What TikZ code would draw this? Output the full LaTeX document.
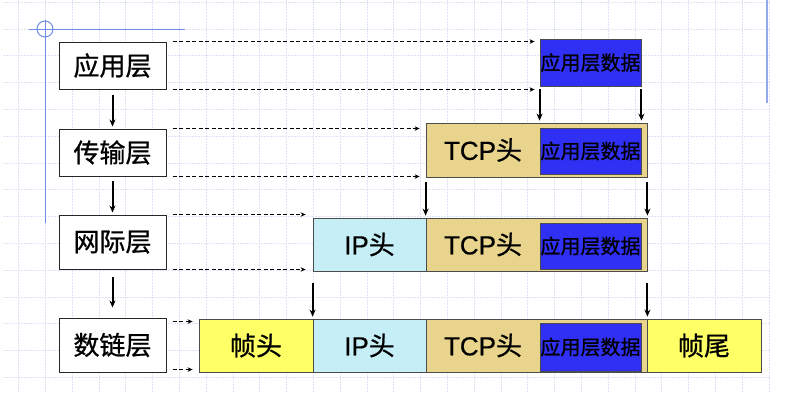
\documentclass[tikz,border=0pt]{standalone}
\usepackage{fontspec}
\setmainfont{Liberation Sans}[FakeBold=0.6]
\newfontfamily\cjk{Noto Sans CJK SC}[FakeBold=0.8]
\usetikzlibrary{arrows.meta}
\definecolor{gridc}{RGB}{222,226,245}
\definecolor{accent}{RGB}{110,140,232}
\definecolor{ylw}{RGB}{255,255,102}
\definecolor{cyn}{RGB}{198,238,246}
\definecolor{tanc}{RGB}{232,212,140}
\definecolor{dblue}{RGB}{48,48,245}
\tikzset{
  gridline/.style={gridc, line width=0.8pt, dash pattern=on 2pt off 1pt},
  layer/.style={draw=black!85, line width=1pt, fill=white, minimum width=107pt, inner sep=0pt, font=\cjk\fontsize{26}{30}\selectfont},
  cell/.style={draw=black!70, line width=0.8pt, inner sep=0pt, font=\fontsize{26}{30}\selectfont},
  data/.style={cell, fill=dblue, minimum width=101pt, font=\cjk\fontsize{20}{24}\selectfont},
  lbl/.style={inner sep=0pt, font=\fontsize{26}{30}\selectfont},
  darr/.style={dash pattern=on 4pt off 2.5pt, line width=0.9pt, -{Stealth[length=5pt,width=4.5pt]}},
  sarr/.style={line width=2pt, -{Stealth[length=7pt,width=6pt]}},
  accentline/.style={accent, line width=1pt}
}
\begin{document}
\begin{tikzpicture}[x=1pt,y=-1pt]
\useasboundingbox (0,0) rectangle (791,405);
\fill[white] (0,0) rectangle (791,405);
% grid
\foreach \i in {0,...,28} \draw[gridline] (18.5+26.8*\i,0) -- (18.5+26.8*\i,393);
\foreach \j in {-1,...,13} \draw[gridline] (3,29+26.8*\j) -- (770,29+26.8*\j);
% accents
\draw[accentline] (29,29) -- (185,29);
\draw[accentline] (45,20) -- (45,223);
\draw[accentline] (45,29) circle (8pt);
\draw[accent!75, line width=2pt] (767,0) -- (767,103);
% layer boxes
\node[layer, minimum height=47pt] (L1) at (112.5,65.5) {应用层};
\node[layer, minimum height=47pt] (L2) at (112.5,152.5) {传输层};
\node[layer, minimum height=54pt] (L3) at (112.5,242) {网际层};
\node[layer, minimum height=54pt] (L4) at (112.5,345) {数链层};
% row 1
\node[data, minimum height=47pt] (D1) at (590.5,62.5) {应用层数据};
% row 2
\node[cell, fill=tanc, minimum width=221pt, minimum height=54pt] (T2) at (536.5,150) {};
\node[data, minimum height=46pt] (D2) at (590.5,151) {应用层数据};
\node[lbl] (t2) at (483,150) {TCP{\cjk 头}};
% row 3
\node[cell, fill=cyn, minimum width=113pt, minimum height=53pt] (I3) at (369.5,244.5) {IP{\cjk 头}};
\node[cell, fill=tanc, minimum width=221pt, minimum height=53pt] (T3) at (536.5,244.5) {};
\node[data, minimum height=46pt] (D3) at (590.5,246) {应用层数据};
\node[lbl] (t3) at (483,244.5) {TCP{\cjk 头}};
% row 4
\node[cell, fill=ylw, minimum width=114pt, minimum height=53pt] (F4) at (256,345.5) {\cjk 帧头};
\node[cell, fill=cyn, minimum width=113pt, minimum height=53pt] (I4) at (369.5,345.5) {IP{\cjk 头}};
\node[cell, fill=tanc, minimum width=221pt, minimum height=53pt] (T4) at (536.5,345.5) {};
\node[data, minimum height=48pt] (D4) at (590.5,347) {应用层数据};
\node[lbl] (t4) at (483,345.5) {TCP{\cjk 头}};
\node[cell, fill=ylw, minimum width=114pt, minimum height=53pt] (E4) at (704,345.5) {\cjk 帧尾};
% dashed arrows
\draw[darr, shorten <=6pt, shorten >=5pt] (L1.north east) -- (L1.north east -| D1.west);
\draw[darr, shorten <=6pt, shorten >=5pt] (L1.south east) -- (L1.south east -| D1.west);
\draw[darr, shorten <=6pt, shorten >=6pt] (L2.north east) -- (L2.north east -| T2.west);
\draw[darr, shorten <=6pt, shorten >=6pt] (L2.south east) -- (L2.south east -| T2.west);
\draw[darr, shorten <=6pt, shorten >=7pt] (L3.north east) -- (L3.north east -| I3.west);
\draw[darr, shorten <=6pt, shorten >=7pt] (L3.south east) -- (L3.south east -| I3.west);
\coordinate (a4) at ([yshift=-4pt]L4.north east);
\coordinate (b4) at ([yshift=3pt]L4.south east);
\draw[darr, shorten <=6pt, shorten >=6pt] (a4) -- (a4 -| F4.west);
\draw[darr, shorten <=6pt, shorten >=6pt] (b4) -- (b4 -| F4.west);
% solid arrows
\draw[sarr] ([yshift=-5pt]L1.south) -- ([yshift=2pt]L2.north);
\draw[sarr] ([yshift=-4pt]L2.south) -- ([yshift=2pt]L3.north);
\draw[sarr] ([yshift=-7pt]L3.south) -- ([yshift=10pt]L4.north);
\draw[sarr, shorten <=3pt, shorten >=2pt] (D1.south west) -- (D1.south west |- T2.north);
\draw[sarr, shorten <=3pt, shorten >=2pt] (D1.south east) -- (D1.south east |- T2.north);
\draw[sarr, shorten <=5pt, shorten >=2pt] (T2.south west) -- (T2.south west |- T3.north);
\draw[sarr, shorten <=5pt, shorten >=2pt] (T2.south east) -- (T2.south east |- T3.north);
\draw[sarr, shorten <=12pt, shorten >=2pt] (I3.south west) -- (I3.south west |- I4.north);
\draw[sarr, shorten <=12pt, shorten >=2pt] (T3.south east) -- (T3.south east |- T4.north);
\end{tikzpicture}
\end{document}
